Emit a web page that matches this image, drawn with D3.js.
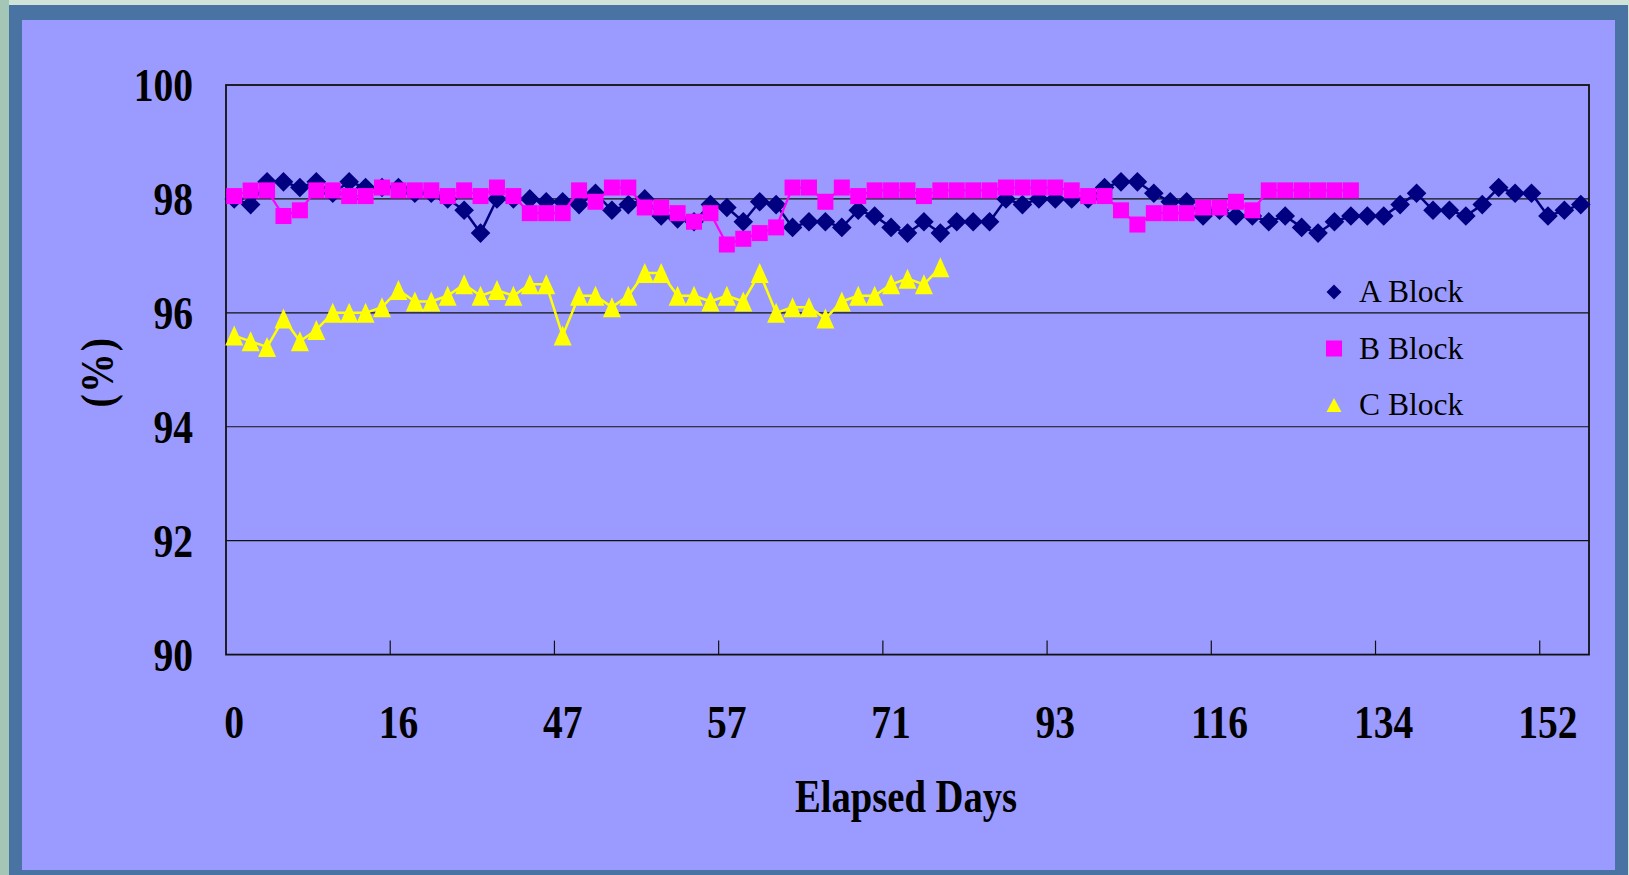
<!DOCTYPE html>
<html>
<head>
<meta charset="utf-8">
<script src="https://cdn.jsdelivr.net/npm/d3@7"></script>
<style>
body { margin: 0; background: #c9dfd3; }
svg { display: block; }
</style>
</head>
<body>
<script>
// Elapsed days, labels shown every 10 samples
var tickLabels = ["0", "16", "47", "57", "71", "93", "116", "134", "152"];
var nSamples = 83;

var aBlock = [98.0, 97.9, 98.3, 98.3, 98.2, 98.3, 98.1, 98.3, 98.2, 98.2,
              98.2, 98.1, 98.1, 98.0, 97.8, 97.4, 98.0, 98.0, 98.0, 97.95,
              97.95, 97.9, 98.1, 97.8, 97.9, 98.0, 97.7, 97.65, 97.6, 97.9,
              97.85, 97.6, 97.95, 97.9, 97.5, 97.6, 97.6, 97.5, 97.8, 97.7,
              97.5, 97.4, 97.6, 97.4, 97.6, 97.6, 97.6, 98.0, 97.9, 98.0,
              98.0, 98.0, 98.0, 98.2, 98.3, 98.3, 98.1, 97.95, 97.95, 97.7,
              97.8, 97.7, 97.7, 97.6, 97.7, 97.5, 97.4, 97.6, 97.7, 97.7,
              97.7, 97.9, 98.1, 97.8, 97.8, 97.7, 97.9, 98.2, 98.1, 98.1,
              97.7, 97.8, 97.9];

var bBlock = [98.05, 98.15, 98.15, 97.7, 97.8, 98.15, 98.15, 98.05, 98.05, 98.2,
              98.15, 98.15, 98.15, 98.05, 98.15, 98.05, 98.2, 98.05, 97.75, 97.75,
              97.75, 98.15, 97.95, 98.2, 98.2, 97.85, 97.85, 97.75, 97.6, 97.75,
              97.2, 97.3, 97.4, 97.5, 98.2, 98.2, 97.95, 98.2, 98.05, 98.15,
              98.15, 98.15, 98.05, 98.15, 98.15, 98.15, 98.15, 98.2, 98.2, 98.2,
              98.2, 98.15, 98.05, 98.05, 97.8, 97.55, 97.75, 97.75, 97.75, 97.85,
              97.85, 97.95, 97.8, 98.15, 98.15, 98.15, 98.15, 98.15, 98.15];

var cBlock = [95.6, 95.5, 95.4, 95.9, 95.5, 95.7, 96.0, 96.0, 96.0, 96.1,
              96.4, 96.2, 96.2, 96.3, 96.5, 96.3, 96.4, 96.3, 96.5, 96.5,
              95.6, 96.3, 96.3, 96.1, 96.3, 96.7, 96.7, 96.3, 96.3, 96.2,
              96.3, 96.2, 96.7, 96.0, 96.1, 96.1, 95.9, 96.2, 96.3, 96.3,
              96.5, 96.6, 96.5, 96.8];

var yTicks = [90, 92, 94, 96, 98, 100];

var W = 1629, H = 875;
var plotL = 226, plotR = 1589, plotT = 85, plotB = 654.6;
var sx = 0.86; // the original lettering is a bit narrow

var svg = d3.select("body").append("svg").attr("width", W).attr("height", H);

// frame
svg.append("rect").attr("x", 0).attr("y", 0).attr("width", W).attr("height", H).attr("fill", "#cfe3d8");
svg.append("rect").attr("x", 0).attr("y", 0).attr("width", 9).attr("height", H).attr("fill", "#a4c6b6");
svg.append("rect").attr("x", 9).attr("y", 5).attr("width", 1619).attr("height", 870).attr("fill", "#4873a2");
svg.append("rect").attr("x", 22).attr("y", 20).attr("width", 1593).attr("height", 850).attr("fill", "#9b9bff");

var idx = d3.range(nSamples);
var x = d3.scaleBand().domain(idx).range([plotL, plotR]).padding(0);
var y = d3.scaleLinear().domain([90, 100]).range([plotB, plotT]);
var cx = function (i) { return x(i) + x.bandwidth() / 2; };

// gridlines
svg.selectAll("line.grid")
    .data(yTicks.slice(1, -1))
    .enter().append("line")
        .attr("class", "grid")
        .attr("x1", plotL).attr("x2", plotR)
        .attr("y1", function (d) { return y(d); })
        .attr("y2", function (d) { return y(d); })
        .attr("stroke", "#111").attr("stroke-width", 1.2);

// plot border
svg.append("rect")
    .attr("x", plotL).attr("y", plotT)
    .attr("width", plotR - plotL).attr("height", plotB - plotT)
    .attr("fill", "none").attr("stroke", "#111").attr("stroke-width", 1.8);

// x tick marks between categories
svg.selectAll("line.xtick")
    .data(d3.range(10, nSamples, 10))
    .enter().append("line")
        .attr("class", "xtick")
        .attr("x1", function (d) { return x(d); })
        .attr("x2", function (d) { return x(d); })
        .attr("y1", plotB).attr("y2", plotB - 14)
        .attr("stroke", "#111").attr("stroke-width", 1.2);

// y axis labels
var yAxis = svg.append("g")
    .attr("transform", "translate(" + plotL + ",0)")
    .call(d3.axisLeft(y).tickValues(yTicks).tickSize(0).tickPadding(0));
yAxis.select(".domain").remove();
yAxis.selectAll("text")
    .attr("x", -33 / sx).attr("dy", "0.34em")
    .attr("transform", "scale(" + sx + ",1)")
    .attr("font-family", "'Liberation Serif', 'Times New Roman', serif")
    .attr("font-weight", "bold").attr("font-size", 46).attr("fill", "#000");

// x axis labels
var xAxis = svg.append("g")
    .attr("transform", "translate(0," + plotB + ")")
    .call(d3.axisBottom(x)
        .tickValues(d3.range(0, nSamples, 10))
        .tickFormat(function (d) { return tickLabels[d / 10]; })
        .tickSize(0).tickPadding(0));
xAxis.select(".domain").remove();
xAxis.selectAll("text")
    .attr("y", 83).attr("dy", 0)
    .attr("transform", "scale(" + sx + ",1)")
    .attr("font-family", "'Liberation Serif', 'Times New Roman', serif")
    .attr("font-weight", "bold").attr("font-size", 46).attr("fill", "#000");

// axis titles
svg.append("text")
    .attr("transform", "translate(906,812) scale(0.84,1)")
    .attr("text-anchor", "middle")
    .attr("font-family", "'Liberation Serif', 'Times New Roman', serif")
    .attr("font-weight", "bold").attr("font-size", 46)
    .text("Elapsed Days");

svg.append("text")
    .attr("transform", "translate(113,372) rotate(-90) scale(" + sx + ",1)")
    .attr("text-anchor", "middle")
    .attr("font-family", "'Liberation Serif', 'Times New Roman', serif")
    .attr("font-weight", "bold").attr("font-size", 46)
    .attr("letter-spacing", 2)
    .text("(%)");

// marker shapes
function diamond(px, py, r) {
    return "M" + px + "," + (py - r) + "L" + (px + r) + "," + py + "L" + px + "," + (py + r) + "L" + (px - r) + "," + py + "Z";
}
function square(px, py, s) {
    var h = s / 2;
    return "M" + (px - h) + "," + (py - h) + "h" + s + "v" + s + "h" + (-s) + "Z";
}
function triangle(px, py, w, h) {
    return "M" + px + "," + (py - h / 2) + "L" + (px + w / 2) + "," + (py + h / 2) + "L" + (px - w / 2) + "," + (py + h / 2) + "Z";
}

var series = [
    { name: "A Block", values: aBlock, color: "#000080", lw: 2.5,
      mark: function (px, py) { return diamond(px, py, 9.8); },
      key: function (px, py) { return diamond(px, py, 7.5); } },
    { name: "B Block", values: bBlock, color: "#ff00ff", lw: 2.2,
      mark: function (px, py) { return square(px, py, 16); },
      key: function (px, py) { return square(px, py, 16); } },
    { name: "C Block", values: cBlock, color: "#ffff00", lw: 2.5,
      mark: function (px, py) { return triangle(px, py, 18, 20); },
      key: function (px, py) { return triangle(px, py, 15, 14); } }
];

var line = d3.line()
    .x(function (d, i) { return cx(i); })
    .y(function (d) { return y(d); });

series.forEach(function (s) {
    var g = svg.append("g");
    g.append("path")
        .datum(s.values)
        .attr("d", line)
        .attr("fill", "none")
        .attr("stroke", s.color)
        .attr("stroke-width", s.lw)
        .attr("stroke-linejoin", "round");
    g.selectAll("path.mk")
        .data(s.values)
        .enter().append("path")
            .attr("class", "mk")
            .attr("d", function (d, i) { return s.mark(cx(i), y(d)); })
            .attr("fill", s.color);
});

// legend
var legend = svg.append("g");
series.forEach(function (s, i) {
    var ly = 292 + i * 56.5;
    legend.append("path")
        .attr("d", s.key(1334, ly))
        .attr("fill", s.color);
    legend.append("text")
        .attr("x", 1359).attr("y", ly + 10)
        .attr("font-family", "'Liberation Serif', 'Times New Roman', serif")
        .attr("font-size", 31.5).attr("fill", "#000")
        .text(s.name);
});
</script>
</body>
</html>
